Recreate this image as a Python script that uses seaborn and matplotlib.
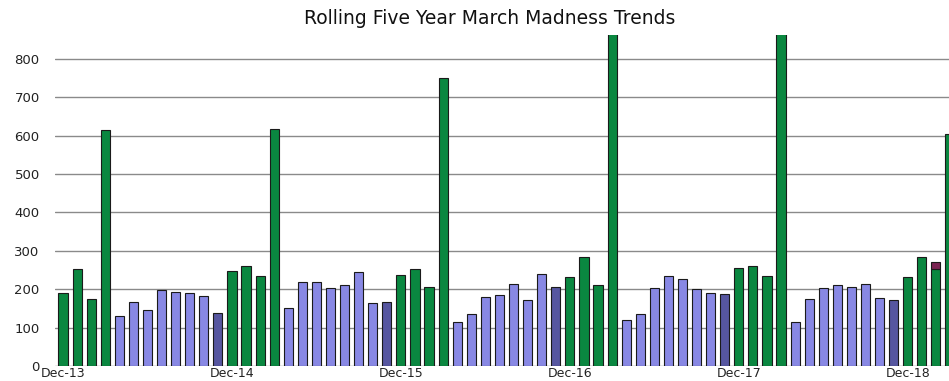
import pandas as pd
import matplotlib
matplotlib.use("Agg")
import matplotlib.pyplot as plt
import seaborn as sns

# Monthly values, Dec-13 .. Mar-19 (Mar-17 / Mar-18 run off the top of the chart)
months = pd.date_range("2013-12-01", periods=64, freq="MS").strftime("%b-%y").tolist()
values = [
    189, 252, 174, 614, 130, 166, 145, 197, 194, 191, 183, 137,
    247, 260, 234, 617, 150, 220, 218, 204, 210, 246, 163, 167,
    236, 253, 205, 750, 115, 135, 180, 185, 213, 173, 240, 206,
    232, 283, 212, 900, 120, 135, 202, 234, 227, 201, 190, 188,
    254, 260, 234, 900, 114, 175, 204, 212, 206, 213, 176, 171,
    233, 285, 252, 604,
]
# extra piece stacked on Feb-19
extra_month = "Feb-19"
extra_value = 19

y_ticks = [0, 100, 200, 300, 400, 500, 600, 700, 800]
x_tick_labels = ["Dec-13", "Dec-14", "Dec-15", "Dec-16", "Dec-17", "Dec-18"]


def season(m):
    mon = m[:3]
    if mon in ("Dec", "Jan", "Feb", "Mar"):
        return "season"
    if mon == "Nov":
        return "nov"
    return "off"


df = pd.DataFrame({"Month": months, "Value": values})
df["Group"] = df["Month"].apply(season)

palette = {"season": "#0a8740", "off": "#8888e4", "nov": "#5656a0"}

sns.set_style("white")
plt.rcParams["font.family"] = ["DejaVu Sans"]

fig = plt.figure(figsize=(9.49, 3.81), dpi=100)
ax = fig.add_axes([55 / 949, 15 / 381, 1 - 55 / 949, 331 / 381])

sns.barplot(data=df, x="Month", y="Value", hue="Group", palette=palette,
            dodge=False, width=0.65, saturation=1, edgecolor="#1a1a1a",
            linewidth=0.8, legend=False, ax=ax, zorder=3)

# maroon piece on top of the last full bar
idx = months.index(extra_month)
ax.bar(idx, extra_value, bottom=values[idx], width=0.65, color="#7a2352",
       edgecolor="#1a1a1a", linewidth=0.8, zorder=3)

ax.set_xlim(-0.57, 62.93)
ax.set_ylim(0, 862)
ax.set_yticks(y_ticks)
ax.set_yticklabels([str(t) for t in y_ticks], fontsize=9.5, color="#222222")
ax.set_xticks([months.index(l) for l in x_tick_labels])
ax.set_xticklabels(x_tick_labels, fontsize=9, color="#222222")
ax.tick_params(axis="y", length=0, pad=11)
ax.tick_params(axis="x", length=0, pad=1)
ax.set_xlabel("")
ax.set_ylabel("")

ax.yaxis.grid(True, color="#8a8a8a", linewidth=1.0, zorder=0)
ax.set_axisbelow(True)
for s in ax.spines.values():
    s.set_visible(False)

fig.text(490 / 949, 1 - 18 / 381, "Rolling Five Year March Madness Trends",
         ha="center", va="center", fontsize=13.5, color="#111111")

fig.savefig("out.png", dpi=100)
